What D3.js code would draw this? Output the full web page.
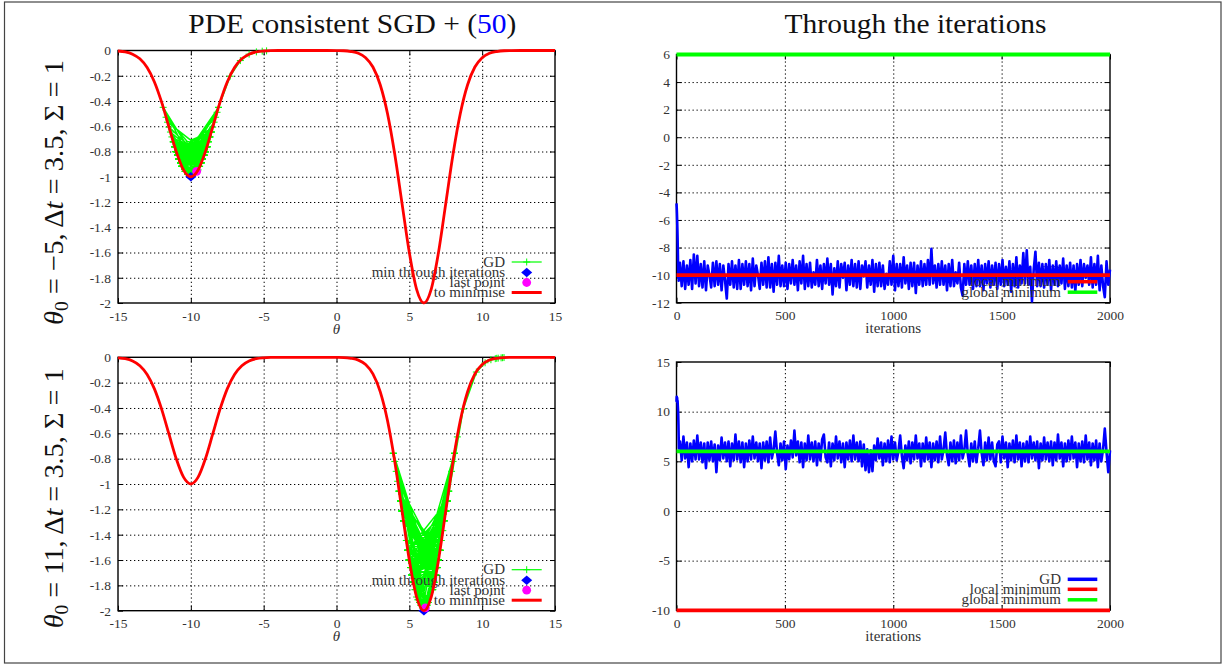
<!DOCTYPE html>
<html><head><meta charset="utf-8">
<script src="https://cdn.jsdelivr.net/npm/d3@7"></script>
<style>body{margin:0;background:#fff}svg{display:block}</style>
</head><body><svg id="c" width="1227" height="665"></svg>
<script>
// ---------------- DATA ----------------
// loss curve "to minimise"
const curveTheta = [-15,-14.5,-14,-13.5,-13,-12.5,-12,-11.5,-11,-10.5,-10,-9.5,-9,-8.5,-8,-7.5,-7,-6.5,-6,-5.5,-5,-4.5,-4,
  -3,-2,-1,
  0,0.5,1,1.5,2,2.5,3,3.5,4,4.5,5,5.5,6,6.5,7,7.5,8,8.5,9,9.5,10,10.5,11,11.5,12,
  13,14,15];
const curveLoss = [-0.004,-0.011,-0.029,-0.066,-0.135,-0.249,-0.411,-0.607,-0.801,-0.946,-1.000,-0.946,-0.801,-0.607,-0.411,-0.249,-0.135,-0.066,-0.029,-0.011,-0.004,-0.001,0,
  0,0,0,
  -0.001,-0.002,-0.008,-0.022,-0.057,-0.131,-0.271,-0.499,-0.822,-1.213,-1.601,-1.892,-2.000,-1.892,-1.601,-1.213,-0.822,-0.499,-0.271,-0.131,-0.057,-0.022,-0.008,-0.002,-0.001,
  0,0,0];

// run 1 : theta0 = -5
const topStartIter  = [0,1,2,3,4,5,6,7,8,9,10];
const topStartTheta = [-4.8,-5.1,-5.5,-6.0,-6.6,-7.3,-8.1,-9.0,-10.2,-9.7,-10.4];
const topTheta = [
 -9.1,-10.8,-9.0,-11.0,-9.3,-10.7,-8.9,-11.0,-8.5,-10.6,
 -8.6,-10.8,-9.2,-10.9,-9.0,-11.1,-9.3,-10.0,-10.9,-9.1,
 -10.8,-9.0,-10.7,-9.2,-11.1,-9.3,-10.4,-11.7,-9.2,-10.7,
 -9.0,-10.9,-9.3,-11.0,-8.9,-11.0,-9.2,-10.7,-9.0,-10.8,
 -9.2,-11.1,-8.8,-10.8,-9.3,-10.0,-11.0,-9.1,-10.7,-9.0,
 -10.9,-8.7,-10.9,-9.2,-11.2,-9.1,-10.7,-8.6,-10.8,-9.3,
 -10.8,-9.1,-11.0,-9.2,-10.6,-8.9,-10.7,-9.3,-11.1,-9.0,
 -10.6,-8.6,-11.0,-9.2,-10.8,-9.1,-10.9,-9.8,-10.7,-8.9,
 -10.8,-9.3,-11.0,-9.2,-10.6,-8.8,-10.7,-9.2,-11.4,-9.5,
 -10.8,-9.0,-10.9,-9.2,-10.2,-9.1,-11.1,-9.3,-10.7,-8.9,
 -10.8,-9.2,-10.9,-9.0,-11.0,-9.3,-10.1,-9.0,-10.9,-9.3,
 -10.7,-8.9,-11.2,-9.2,-10.8,-9.1,-10.8,-9.3,-11.0,-9.9,
 -10.7,-9.0,-10.7,-8.6,-11.1,-9.2,-10.8,-9.2,-10.9,-8.7,
 -10.6,-9.3,-11.0,-9.1,-10.8,-9.1,-11.3,-9.3,-10.7,-9.0,
 -10.8,-9.2,-10.7,-8.9,-10.7,-8.1,-10.6,-9.3,-10.9,-9.2,
 -10.7,-9.0,-10.7,-9.3,-11.1,-9.2,-10.8,-8.9,-10.8,-9.8,
 -10.6,-9.1,-10.9,-11.5,-9.2,-10.7,-9.0,-10.7,-9.3,-11.0,
 -9.2,-10.8,-8.9,-10.8,-9.3,-11.1,-9.2,-10.6,-9.0,-10.9,
 -9.3,-10.7,-9.1,-11.0,-9.2,-10.7,-8.9,-10.8,-9.4,-10.7,
 -9.0,-11.2,-9.2,-10.8,-8.7,-10.9,-9.3,-10.6,-8.4,-10.6,
 -8.2,-10.7,-9.4,-11.9,-9.6,-8.3,-10.8,-9.1,-10.8,-9.2,
 -10.9,-9.2,-10.7,-8.9,-11.1,-9.3,-10.7,-9.0,-10.8,-9.3,
 -10.6,-8.8,-11.0,-9.3,-10.8,-9.1,-10.9,-9.3,-11.2,-9.2,
 -10.7,-8.9,-10.8,-9.2,-10.2,-9.3,-10.7,-8.7,-10.9,-9.2,
 -10.7,-8.6,-11.1,-9.3,-10.8,-11.6,-9.0,-10.7,-9.6];

// run 2 : theta0 = 11
const bottomStartIter  = [0,1,2,3,4,5,6,7,8,9,10,11];
const bottomStartTheta = [11.0,11.5,11.3,11.4,10.9,11.1,10.6,10.2,9.6,8.7,7.5,6.3];
const bottomTheta = [
 7.0,5.1,7.5,5.3,6.9,4.4,6.8,5.0,7.1,5.2,
 7.6,5.2,6.9,4.9,6.8,4.3,6.9,5.1,7.0,5.0,
 6.7,3.9,6.6,5.1,7.4,5.3,6.9,5.0,7.0,4.5,
 6.8,5.1,7.7,5.2,7.0,4.9,6.9,4.4,6.8,5.0,
 7.1,5.2,7.5,5.3,6.9,5.0,6.8,4.3,6.9,5.1,
 7.0,4.9,7.4,5.3,6.2,8.0,5.8,4.6,6.8,5.1,
 7.0,4.2,6.6,5.2,7.1,5.4,8.1,5.6,7.0,4.9,
 6.9,4.4,6.8,5.1,7.6,5.2,6.9,5.0,7.0,4.6,
 6.8,5.1,7.2,7.7,5.4,4.9,6.9,4.5,6.8,5.1,
 7.5,5.3,7.0,4.9,6.8,4.4,6.9,5.2,7.1,5.0,
 7.6,5.2,6.9,5.0,7.0,4.5,6.7,4.1,6.2,3.9,
 6.1,4.0,6.6,5.1,7.3,5.3,6.9,4.6,6.8,5.0,
 7.1,4.9,7.5,5.2,6.9,5.1,6.0,7.6,5.5,4.3,
 6.6,5.1,7.0,4.8,6.9,5.2,7.6,5.3,6.8,4.5,
 6.8,5.0,7.4,5.2,6.9,4.4,6.8,5.1,7.0,4.9,
 7.5,5.2,6.2,7.9,5.6,4.6,6.9,5.0,7.1,4.8,
 6.9,5.1,7.6,5.3,6.1,8.1,5.7,4.5,6.8,5.0,
 7.0,4.9,6.3,8.1,5.8,4.6,6.9,5.1,7.4,5.2,
 6.9,5.0,4.5,6.7,7.0,4.9,7.5,5.3,6.9,4.4,
 6.8,5.1,7.1,4.9,7.6,5.2,6.9,4.5,6.8,5.0,
 7.0,4.9,7.5,5.3,6.9,5.1,7.0,4.3,6.8,5.1,
 7.4,5.2,6.9,5.0,7.0,4.6,6.9,5.1,7.7,5.3,
 6.9,4.5,6.8,5.0,7.1,5.2,7.5,5.3,6.9,4.4,
 6.8,5.0,7.0,4.9,7.6,5.2,6.9,4.6,6.8,5.1,
 7.1,4.4,6.8,5.0,6.2,8.3,5.9,3.9,6.1];

const initialTheta = [-5, 11];
const localMinimum = -10;
const globalMinimum = 6;
const lastIteration = 2000;

const thetaTicks = [-15,-10,-5,0,5,10,15];
const lossTicks = [0,-0.2,-0.4,-0.6,-0.8,-1,-1.2,-1.4,-1.6,-1.8,-2];
const iterTicks = [0,500,1000,1500,2000];
const topIterYTicks = [-12,-10,-8,-6,-4,-2,0,2,4,6];
const bottomIterYTicks = [-10,-5,0,5,10,15];
const leftLegend = ['GD','min through iterations','last point','to minimise'];
const rightLegend = ['GD','local minimum','global minimum'];

// ---------------- DRAWING ----------------
const FONT = '"Liberation Serif","Times New Roman",serif';
const svg = d3.select('#c').attr('font-family', FONT);
const GREEN = '#00ff00', BLUE = '#0000ff', RED = '#ff0000', MAG = '#ff00ff';

svg.append('rect').attr('x',4.5).attr('y',2).attr('width',1216.5).attr('height',661)
  .attr('fill','none').attr('stroke','#444').attr('stroke-width',1.2);

function lossAt(t){
  const i = d3.bisectRight(curveTheta, t);
  if (i <= 0) return curveLoss[0];
  if (i >= curveTheta.length) return curveLoss[curveLoss.length-1];
  const t0 = curveTheta[i-1], t1 = curveTheta[i];
  const u = (t - t0)/(t1 - t0);
  return curveLoss[i-1] + u*(curveLoss[i]-curveLoss[i-1]);
}

function frame(g, box, x, y, xTicks, yTicks, xFmt, yFmt, padX, padY){
  const w = box.x1-box.x0, h = box.y1-box.y0;
  const xd = x.domain(), yd = y.domain();
  const gx = g.append('g').attr('transform',`translate(0,${box.y1})`)
    .call(d3.axisBottom(x).tickValues(xTicks.filter(v=>v!==xd[0]&&v!==xd[1])).tickSize(-h).tickFormat(''));
  const gy = g.append('g').attr('transform',`translate(${box.x0},0)`)
    .call(d3.axisLeft(y).tickValues(yTicks.filter(v=>v!==yd[0]&&v!==yd[1])).tickSize(-w).tickFormat(''));
  [gx,gy].forEach(s=>{ s.select('.domain').remove();
    s.selectAll('line').attr('stroke','#000').attr('stroke-width',1).attr('stroke-dasharray','1.3,2.7'); });
  g.append('rect').attr('x',box.x0).attr('y',box.y0).attr('width',w).attr('height',h)
    .attr('fill','none').attr('stroke','#000').attr('stroke-width',1.4);
  const axes = [
    g.append('g').attr('transform',`translate(0,${box.y1})`).call(d3.axisBottom(x).tickValues(xTicks).tickSize(-5).tickPadding(padX).tickFormat(xFmt)),
    g.append('g').attr('transform',`translate(0,${box.y0})`).call(d3.axisTop(x).tickValues(xTicks).tickSize(-5).tickFormat('')),
    g.append('g').attr('transform',`translate(${box.x0},0)`).call(d3.axisLeft(y).tickValues(yTicks).tickSize(-5).tickPadding(padY).tickFormat(yFmt)),
    g.append('g').attr('transform',`translate(${box.x1},0)`).call(d3.axisRight(y).tickValues(yTicks).tickSize(-5).tickFormat(''))
  ];
  axes.forEach(a=>{ a.select('.domain').remove();
    a.attr('font-family',FONT).attr('font-size',13.5);
    a.selectAll('line').attr('stroke','#000').attr('stroke-width',1);
    a.selectAll('text').attr('fill','#333'); });
}

function legendText(g, xRight, yc, txt){
  g.append('text').attr('x',xRight).attr('y',yc+4.5).attr('text-anchor','end')
    .attr('font-size',15).attr('fill','#333').text(txt);
}

const plusPath = 'M-3.5,0H3.5M0,-3.5V3.5';
const diamondPath = 'M0,-4.8L5.5,0L0,4.8L-5.5,0Z';

const leftBoxes = [{x0:118,x1:555,y0:50.5,y1:303},{x0:118,x1:555,y0:357.3,y1:610.7}];
const rightBoxes = [{x0:676.5,x1:1110,y0:54.5,y1:302.7},{x0:676.5,x1:1110,y0:362,y1:610.3}];
const runs = [
  {startIter:topStartIter, startTheta:topStartTheta, theta:topTheta, yDom:[-12,6], yTicks:topIterYTicks},
  {startIter:bottomStartIter, startTheta:bottomStartTheta, theta:bottomTheta, yDom:[-10,15], yTicks:bottomIterYTicks}
];
const lossFmt = d => d===0 ? '0' : String(+d.toFixed(1));
const curvePts = curveTheta.map((t,i)=>({t, l:curveLoss[i]}));

runs.forEach((run, r) => {
  const n = run.theta.length;
  const iters = run.startIter.concat(d3.range(n).map(i => 16 + i*(lastIteration-16)/(n-1)));
  const thetas = run.startTheta.concat(run.theta);
  const pts = thetas.map((t,i)=>({it:iters[i], t, l:lossAt(t)}));

  // ---- left panel ----
  const bL = leftBoxes[r];
  const x = d3.scaleLinear([-15,15],[bL.x0,bL.x1]);
  const y = d3.scaleLinear([-2,0],[bL.y1,bL.y0]);
  const gL = svg.append('g');
  frame(gL, bL, x, y, thetaTicks, lossTicks, d=>String(d), lossFmt, 8, 7);
  const lx0 = 511.7, lx1 = 541.7, lxc = 526.7, tr = 505;
  const off = [41, 30.5, 20.5, 10.5].map(o => bL.y1 - o);
  // GD
  legendText(gL, tr, off[0], leftLegend[0]);
  gL.append('line').attr('x1',lx0).attr('x2',lx1).attr('y1',off[0]).attr('y2',off[0]).attr('stroke',GREEN).attr('stroke-width',1.2);
  gL.append('path').attr('d',plusPath).attr('transform',`translate(${lxc},${off[0]})`).attr('stroke',GREEN).attr('stroke-width',1);
  gL.append('path').datum(pts).attr('fill','none').attr('stroke',GREEN).attr('stroke-width',1.5)
    .attr('d', d3.line().x(d=>x(d.t)).y(d=>y(d.l)));
  gL.append('g').selectAll('path').data(pts).join('path').attr('d',plusPath)
    .attr('transform',d=>`translate(${x(d.t)},${y(d.l)})`).attr('stroke',GREEN).attr('stroke-width',1);
  // min through iterations
  const best = d3.least(pts, d=>d.l);
  legendText(gL, tr, off[1], leftLegend[1]);
  gL.append('path').attr('d',diamondPath).attr('transform',`translate(${lxc},${off[1]})`).attr('fill',BLUE);
  gL.append('path').attr('d',diamondPath).attr('transform',`translate(${x(best.t)},${y(best.l)})`).attr('fill',BLUE);
  // last point
  const last = pts[pts.length-1];
  legendText(gL, tr, off[2], leftLegend[2]);
  gL.append('circle').attr('cx',lxc).attr('cy',off[2]).attr('r',4.4).attr('fill',MAG);
  gL.append('circle').attr('cx',x(last.t)).attr('cy',y(last.l)).attr('r',4.4).attr('fill',MAG);
  // to minimise
  legendText(gL, tr, off[3], leftLegend[3]);
  gL.append('line').attr('x1',lx0).attr('x2',lx1).attr('y1',off[3]).attr('y2',off[3]).attr('stroke',RED).attr('stroke-width',3);
  gL.append('path').datum(curvePts).attr('fill','none').attr('stroke',RED).attr('stroke-width',2.8)
    .attr('d', d3.line().curve(d3.curveMonotoneX).x(d=>x(d.t)).y(d=>y(d.l)));
  gL.append('text').attr('x',336.5).attr('y',bL.y1+30.5).attr('text-anchor','middle')
    .attr('font-size',15).attr('font-style','italic').attr('fill','#333').text('θ');

  // ---- right panel ----
  const bR = rightBoxes[r];
  const xr = d3.scaleLinear([0,lastIteration],[bR.x0,bR.x1]);
  const yr = d3.scaleLinear(run.yDom,[bR.y1,bR.y0]);
  const gR = svg.append('g');
  frame(gR, bR, xr, yr, iterTicks, run.yTicks, d=>String(d), d=>String(d), 8, 6.5);
  const rx0 = 1067.7, rx1 = 1097.3, rtr = 1061;
  const offR = [31, 21, 10.5].map(o => bR.y1 - o);
  legendText(gR, rtr, offR[0], rightLegend[0]);
  gR.append('line').attr('x1',rx0).attr('x2',rx1).attr('y1',offR[0]).attr('y2',offR[0]).attr('stroke',BLUE).attr('stroke-width',3.5);
  gR.append('path').datum(pts).attr('fill','none').attr('stroke',BLUE).attr('stroke-width',2.6)
    .attr('stroke-linejoin','round')
    .attr('d', d3.line().x(d=>xr(d.it)).y(d=>yr(d.t)));
  legendText(gR, rtr, offR[1], rightLegend[1]);
  gR.append('line').attr('x1',rx0).attr('x2',rx1).attr('y1',offR[1]).attr('y2',offR[1]).attr('stroke',RED).attr('stroke-width',3.5);
  gR.append('line').attr('x1',xr(0)).attr('x2',xr(lastIteration)).attr('y1',yr(localMinimum)).attr('y2',yr(localMinimum)).attr('stroke',RED).attr('stroke-width',3.8);
  legendText(gR, rtr, offR[2], rightLegend[2]);
  gR.append('line').attr('x1',rx0).attr('x2',rx1).attr('y1',offR[2]).attr('y2',offR[2]).attr('stroke',GREEN).attr('stroke-width',3.5);
  gR.append('line').attr('x1',xr(0)).attr('x2',xr(lastIteration)).attr('y1',yr(globalMinimum)).attr('y2',yr(globalMinimum)).attr('stroke',GREEN).attr('stroke-width',3.8);
  gR.append('text').attr('x',(bR.x0+bR.x1)/2).attr('y',bR.y1+30.5).attr('text-anchor','middle')
    .attr('font-size',15).attr('fill','#333').text('iterations');
});

// ---- titles ----
const t1 = svg.append('text').attr('x',188.3).attr('y',33).attr('font-size',27).attr('fill','#111')
  .attr('textLength',328).attr('lengthAdjust','spacingAndGlyphs');
t1.append('tspan').text('PDE consistent SGD + (');
t1.append('tspan').attr('fill','#0000ff').text('50');
t1.append('tspan').text(')');
svg.append('text').attr('x',784.6).attr('y',32.7).attr('font-size',27).attr('fill','#111')
  .attr('textLength',262).attr('lengthAdjust','spacingAndGlyphs').text('Through the iterations');

// ---- row labels ----
const rowPos = [{y:325, len:265},{y:628.3, len:260}];
initialTheta.forEach((th, i) => {
  const t = svg.append('text').attr('transform',`translate(63,${rowPos[i].y}) rotate(-90)`)
    .attr('font-size',28).attr('fill','#111').attr('textLength',rowPos[i].len).attr('lengthAdjust','spacingAndGlyphs');
  t.append('tspan').attr('font-style','italic').text('θ');
  t.append('tspan').attr('font-size',19).attr('dy',5).text('0');
  t.append('tspan').attr('dy',-5).text(` = ${th<0?'−'+Math.abs(th):th},  Δ`);
  t.append('tspan').attr('font-style','italic').text('t');
  t.append('tspan').text(' = 3.5, Σ = 1');
});
</script></body></html>
